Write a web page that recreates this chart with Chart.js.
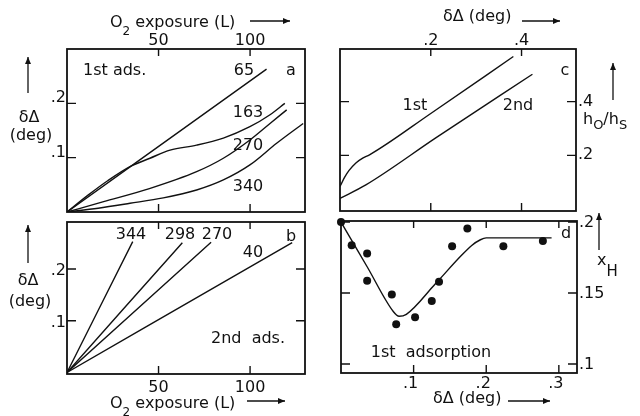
<!DOCTYPE html>
<html>
<head>
<meta charset="utf-8">
<script src="https://cdn.jsdelivr.net/npm/chart.js@4.4.1/dist/chart.umd.min.js"></script>
<style>
  body { margin: 0; background: #fff; }
  #wrap { position: relative; width: 640px; height: 416px; }
  #wrap canvas { position: absolute; left: 0; top: 0; }
</style>
</head>
<body>
<div id="wrap">
  <canvas id="panelA" width="640" height="416"></canvas>
  <canvas id="panelB" width="640" height="416"></canvas>
  <canvas id="panelC" width="640" height="416"></canvas>
  <canvas id="panelD" width="640" height="416"></canvas>
</div>
<script>
// (a) 1st adsorption: δΔ (deg) vs O2 exposure (L), curves labelled by temperature
const a65Exposure = [0, 109];
const a65Delta = [0, 0.263];
const a163Exposure = [0, 11.5, 22.4, 34.4, 45.3, 56.3, 70.8, 85.4, 99.9, 110.9, 119];
const a163Delta = [0, 0.031, 0.058, 0.0835, 0.0989, 0.114, 0.123, 0.136, 0.157, 0.179, 0.2];
const a270Exposure = [0, 20, 45, 70.8, 85.4, 99.9, 110.9, 120];
const a270Delta = [0, 0.019, 0.043, 0.0742, 0.0989, 0.1326, 0.163, 0.188];
const a340Exposure = [0, 17, 34.4, 52.6, 70.8, 85.4, 99.9, 114.5, 129];
const a340Delta = [0, 0.007, 0.016, 0.026, 0.0405, 0.059, 0.0866, 0.1265, 0.163];

// (b) 2nd adsorption
const b344Exposure = [0, 35.9];
const b344Delta = [0, 0.253];
const b298Exposure = [0, 63];
const b298Delta = [0, 0.251];
const b270Exposure = [0, 78.7];
const b270Delta = [0, 0.252];
const b40Exposure = [0, 123];
const b40Delta = [0, 0.251];

// (c) hO/hS vs δΔ
const c1stDelta = [0, 0.01, 0.02, 0.035, 0.05, 0.065, 0.2, 0.382];
const c1stRatio = [0.084, 0.118, 0.144, 0.172, 0.19, 0.202, 0.356, 0.568];
const c2ndDelta = [0, 0.057, 0.211, 0.424];
const c2ndRatio = [0.04, 0.09, 0.265, 0.502];

// (d) xH vs δΔ, 1st adsorption: measured points + drawn trend
const dDotDelta = [0, 0.0147, 0.036, 0.036, 0.070, 0.076, 0.102, 0.125, 0.135, 0.153, 0.174, 0.2236, 0.278];
const dDotXH = [0.2, 0.1837, 0.1778, 0.1586, 0.149, 0.128, 0.133, 0.1444, 0.158, 0.183, 0.1954, 0.183, 0.1867];
const dLineDelta = [0, 0.036, 0.072, 0.08, 0.09, 0.13, 0.165, 0.18, 0.192, 0.2, 0.24, 0.29];
const dLineXH = [0.2, 0.1685, 0.137, 0.1336, 0.135, 0.1565, 0.176, 0.1835, 0.1875, 0.1888, 0.1888, 0.1888];

// tick values and labels
const exposureTicks = [50, 100];
const exposureLabels = ['50', '100'];
const deltaTicks = [0.1, 0.2];
const deltaLabels = ['.1', '.2'];
const ratioTicks = [0.2, 0.4];
const ratioLabels = ['.2', '.4'];
const dDeltaTicks = [0.1, 0.2, 0.3];
const dDeltaLabels = ['.1', '.2', '.3'];
const xhTicks = [0.1, 0.15, 0.2];
const xhLabels = ['.1', '.15', '.2'];

const ink = '#111';
const FONT = '"DejaVu Sans", sans-serif';

const pts = (xs, ys) => xs.map((x, i) => ({ x: x, y: ys[i] }));

function curve(xs, ys) {
    return {
        data: pts(xs, ys),
        borderColor: ink,
        borderWidth: 1.4,
        pointRadius: 0,
        fill: false,
        cubicInterpolationMode: 'monotone'
    };
}

// text with "_X" meaning X is a subscript
function drawRich(ctx, t) {
    const size = t.size || 16;
    const sub = t.sub || [12, 8];
    const parts = t.text.split(/_(.)/);
    const widths = parts.map((p, i) => {
        ctx.font = (i % 2 ? sub[0] : size) + 'px ' + FONT;
        return ctx.measureText(p).width;
    });
    const total = widths.reduce((s, w) => s + w, 0);
    let x = t.x;
    if (t.align === 'center') x -= total / 2;
    if (t.align === 'right') x -= total;
    ctx.textAlign = 'left';
    ctx.textBaseline = 'alphabetic';
    parts.forEach((p, i) => {
        ctx.font = (i % 2 ? sub[0] : size) + 'px ' + FONT;
        ctx.fillText(p, x, t.y + (i % 2 ? sub[1] : 0));
        x += widths[i];
    });
}

function arrow(ctx, x1, y1, x2, y2) {
    ctx.beginPath();
    ctx.moveTo(x1, y1);
    ctx.lineTo(x2, y2);
    ctx.stroke();
    const ang = Math.atan2(y2 - y1, x2 - x1);
    ctx.beginPath();
    ctx.moveTo(x2, y2);
    ctx.lineTo(x2 - 7 * Math.cos(ang) + 3 * Math.sin(ang), y2 - 7 * Math.sin(ang) - 3 * Math.cos(ang));
    ctx.lineTo(x2 - 7 * Math.cos(ang) - 3 * Math.sin(ang), y2 - 7 * Math.sin(ang) + 3 * Math.cos(ang));
    ctx.closePath();
    ctx.fill();
}

// box, inward ticks, tick labels, titles and notes
const deco = {
    id: 'deco',
    afterDraw(chart, args, o) {
        const ctx = chart.ctx;
        const a = chart.chartArea;
        const xs = chart.scales.x, ys = chart.scales.y;
        ctx.save();
        ctx.strokeStyle = ink;
        ctx.fillStyle = ink;
        ctx.lineWidth = 1.8;
        ctx.strokeRect(a.left, a.top, a.right - a.left, a.bottom - a.top);
        ctx.lineWidth = 1.4;
        ctx.beginPath();
        o.xTicks.forEach(v => {
            const px = xs.getPixelForValue(v);
            ctx.moveTo(px, a.top); ctx.lineTo(px, a.top + 7);
            ctx.moveTo(px, a.bottom); ctx.lineTo(px, a.bottom - 8);
        });
        o.yTicks.forEach(v => {
            const py = ys.getPixelForValue(v);
            ctx.moveTo(a.left, py); ctx.lineTo(a.left + 9, py);
            ctx.moveTo(a.right, py); ctx.lineTo(a.right - 9, py);
        });
        ctx.stroke();

        ctx.font = '16px ' + FONT;
        ctx.textBaseline = 'alphabetic';
        ctx.textAlign = 'center';
        o.xTicks.forEach((v, i) => {
            const px = xs.getPixelForValue(v) + (o.xLabelDx || 0);
            const py = o.xLabelPos === 'top' ? a.top - o.xLabelOff : a.bottom + o.xLabelOff;
            ctx.fillText(o.xLabels[i], px, py);
        });
        ctx.textAlign = o.yLabelPos === 'left' ? 'right' : 'left';
        o.yTicks.forEach((v, i) => {
            const py = ys.getPixelForValue(v) + o.yLabelDy;
            const px = o.yLabelPos === 'left' ? a.left - 1 : a.right + 2;
            ctx.fillText(o.yLabels[i], px, py);
        });

        o.texts.forEach(t => drawRich(ctx, t));
        ctx.lineWidth = 1.3;
        o.arrows.forEach(r => arrow(ctx, r[0], r[1], r[2], r[3]));
        ctx.restore();
    }
};

function makePanel(id, padding, xRange, yRange, datasets, decoOpts) {
    return new Chart(document.getElementById(id), {
        type: 'line',
        data: { datasets: datasets },
        options: {
            responsive: false,
            animation: false,
            events: [],
            layout: { padding: padding },
            scales: {
                x: { type: 'linear', display: false, min: xRange[0], max: xRange[1] },
                y: { type: 'linear', display: false, min: yRange[0], max: yRange[1] }
            },
            plugins: {
                legend: { display: false },
                tooltip: { enabled: false },
                deco: decoOpts
            }
        },
        plugins: [deco]
    });
}

makePanel('panelA', { left: 67, top: 49, right: 335, bottom: 204 }, [0, 130], [0, 0.3], [
    curve(a65Exposure, a65Delta),
    curve(a163Exposure, a163Delta),
    curve(a270Exposure, a270Delta),
    curve(a340Exposure, a340Delta)
], {
    xTicks: exposureTicks, xLabels: exposureLabels, xLabelPos: 'top', xLabelOff: 4,
    yTicks: deltaTicks, yLabels: deltaLabels, yLabelPos: 'left', yLabelDy: -1,
    texts: [
        { text: 'O_2 exposure (L)', x: 110, y: 27 },
        { text: 'δΔ', x: 29, y: 122, align: 'center' },
        { text: '(deg)', x: 31, y: 140, align: 'center' },
        { text: '1st ads.', x: 83, y: 75 },
        { text: '65', x: 244, y: 75, align: 'center' },
        { text: 'a', x: 291, y: 75, align: 'center' },
        { text: '163', x: 248, y: 117, align: 'center' },
        { text: '270', x: 248, y: 150, align: 'center' },
        { text: '340', x: 248, y: 191, align: 'center' }
    ],
    arrows: [[250, 21, 290, 21], [28, 93, 28, 57]]
});

makePanel('panelB', { left: 67, top: 222, right: 335, bottom: 42 }, [0, 130], [-0.003, 0.291], [
    curve(b344Exposure, b344Delta),
    curve(b298Exposure, b298Delta),
    curve(b270Exposure, b270Delta),
    curve(b40Exposure, b40Delta)
], {
    xTicks: exposureTicks, xLabels: exposureLabels, xLabelPos: 'bottom', xLabelOff: 18,
    yTicks: deltaTicks, yLabels: deltaLabels, yLabelPos: 'left', yLabelDy: 6,
    texts: [
        { text: 'O_2 exposure (L)', x: 110, y: 408 },
        { text: 'δΔ', x: 28, y: 285, align: 'center' },
        { text: '(deg)', x: 30, y: 306, align: 'center' },
        { text: '344', x: 131, y: 239, align: 'center' },
        { text: '298', x: 180, y: 239, align: 'center' },
        { text: '270', x: 217, y: 239, align: 'center' },
        { text: '40', x: 253, y: 257, align: 'center' },
        { text: 'b', x: 291, y: 241, align: 'center' },
        { text: '2nd  ads.', x: 248, y: 343, align: 'center' }
    ],
    arrows: [[247, 401, 285, 401], [28, 263, 28, 225]]
});

makePanel('panelC', { left: 340, top: 49, right: 64, bottom: 205 }, [0, 0.52], [-0.007, 0.596], [
    curve(c1stDelta, c1stRatio),
    curve(c2ndDelta, c2ndRatio)
], {
    xTicks: ratioTicks, xLabels: ratioLabels, xLabelPos: 'top', xLabelOff: 4,
    yTicks: ratioTicks, yLabels: ratioLabels, yLabelPos: 'right', yLabelDy: 4,
    texts: [
        { text: 'δΔ (deg)', x: 443, y: 21 },
        { text: 'h_O/h_S', x: 583, y: 124, sub: [13, 5] },
        { text: 'c', x: 565, y: 75, align: 'center' },
        { text: '1st', x: 415, y: 110, align: 'center' },
        { text: '2nd', x: 518, y: 110, align: 'center' }
    ],
    arrows: [[522, 21, 560, 21], [613, 100, 613, 63]]
});

const dDots = {
    data: pts(dDotDelta, dDotXH),
    showLine: false,
    pointRadius: 4,
    pointBackgroundColor: ink,
    pointBorderWidth: 0,
    clip: false
};

makePanel('panelD', { left: 341, top: 221, right: 63, bottom: 43 }, [0, 0.325], [0.0937, 0.2007], [
    curve(dLineDelta, dLineXH),
    dDots
], {
    xTicks: dDeltaTicks, xLabels: dDeltaLabels, xLabelPos: 'bottom', xLabelOff: 15, xLabelDx: -3,
    yTicks: xhTicks, yLabels: xhLabels, yLabelPos: 'right', yLabelDy: 5,
    texts: [
        { text: 'δΔ (deg)', x: 433, y: 403 },
        { text: 'x_H', x: 597, y: 265, sub: [15, 11] },
        { text: 'd', x: 566, y: 238, align: 'center' },
        { text: '1st  adsorption', x: 431, y: 357, align: 'center' }
    ],
    arrows: [[508, 401, 550, 401], [599, 250, 599, 213]]
});
</script>
</body>
</html>
